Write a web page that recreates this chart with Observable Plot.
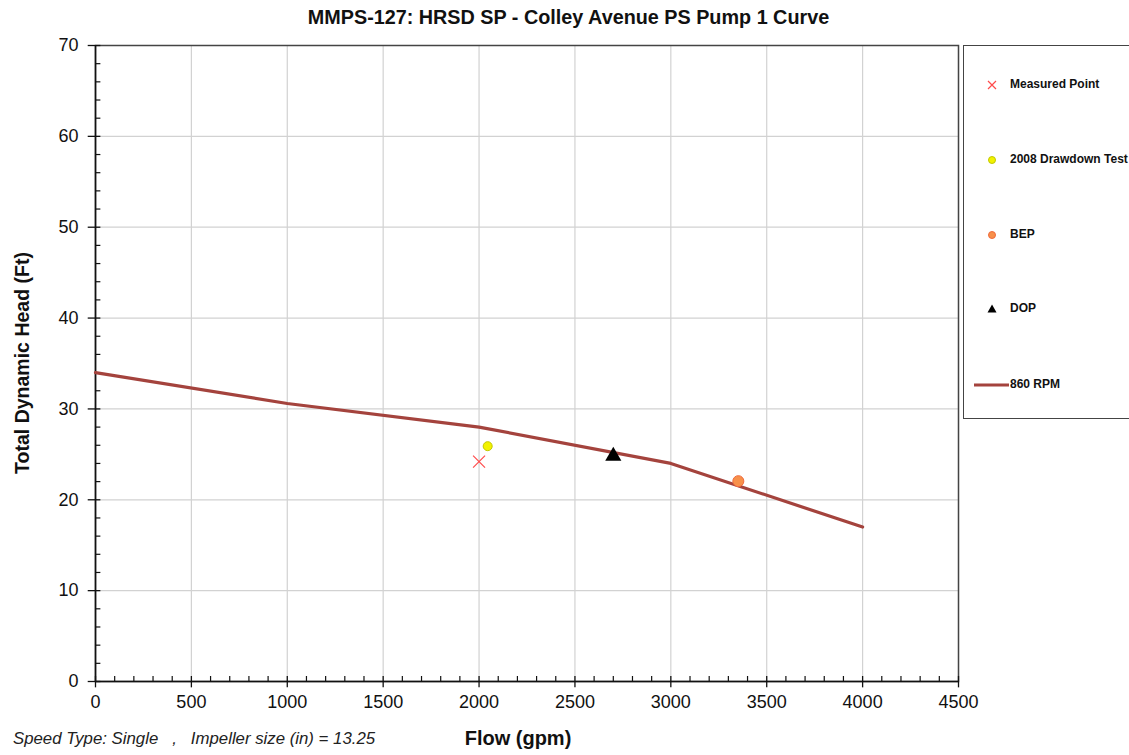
<!DOCTYPE html>
<html>
<head>
<meta charset="utf-8">
<script src="https://cdn.jsdelivr.net/npm/d3@7"></script>
<script src="https://cdn.jsdelivr.net/npm/@observablehq/plot@0.6"></script>
<style>
  body { margin: 0; background: #fff; font-family: "Liberation Sans", Arial, sans-serif; }
  #wrap { position: relative; width: 1129px; height: 755px; overflow: hidden; }
  #chart { position: absolute; left: 0; top: 0; }
  .title { position: absolute; left: 4px; top: 6px; width: 1129px; text-align: center; font-weight: bold; font-size: 19.8px; color: #111; }
  .xlabel { position: absolute; left: 418px; top: 727px; width: 200px; text-align: center; font-weight: bold; font-size: 20px; color: #111; }
  .ylabel { position: absolute; left: 22px; top: 363px; transform: translate(-50%, -50%) rotate(-90deg); white-space: nowrap; font-weight: bold; font-size: 19.5px; color: #111; }
  .caption { position: absolute; left: 13px; top: 729px; font-style: italic; font-size: 16.8px; color: #222; white-space: pre; }
  #legend { position: absolute; left: 963px; top: 45px; width: 200px; height: 374px; border: 1.5px solid #444; box-sizing: border-box; background: #fff; }
  .li { position: absolute; left: 0; height: 14px; font-size: 12px; font-weight: bold; color: #111; font-family: "Liberation Sans", Arial, sans-serif; white-space: nowrap; }
  .li svg { position: absolute; left: 0; top: -3px; }
  .li span { position: absolute; left: 46px; top: -1px; }
</style>
</head>
<body>
<div id="wrap">
  <div id="chart"></div>
  <div class="title">MMPS-127: HRSD SP - Colley Avenue PS Pump 1 Curve</div>
  <div class="ylabel">Total Dynamic Head (Ft)</div>
  <div class="xlabel">Flow (gpm)</div>
  <div class="caption">Speed Type: Single   ,   Impeller size (in) = 13.25</div>
  <div id="legend"></div>
</div>
<script>
// Pump curve (860 RPM)
const curveFlow = [0, 1000, 2000, 3000, 4000];
const curveHead = [34, 30.6, 28, 24, 17];

// Points
const measuredFlow = [2000];
const measuredHead = [24.2];
const drawdownFlow = [2045];
const drawdownHead = [25.9];
const bepFlow = [3352];
const bepHead = [22.05];
const dopFlow = [2700];
const dopHead = [24.8];

// Axis ticks
const xTicks = [0, 500, 1000, 1500, 2000, 2500, 3000, 3500, 4000, 4500];
const yTicks = [0, 10, 20, 30, 40, 50, 60, 70];
const xMinor = d3.range(0, 4501, 100).filter(v => v % 500 !== 0);
const yMinor = d3.range(0, 71, 2).filter(v => v % 10 !== 0);

const curve = curveFlow.map((f, i) => ({flow: f, head: curveHead[i]}));
const pts = (fs, hs) => fs.map((f, i) => ({flow: f, head: hs[i]}));

const lineColor = "#a4433d";

const chart = Plot.plot({
  width: 1129,
  height: 755,
  marginLeft: 95,
  marginRight: 171,
  marginTop: 45,
  marginBottom: 74,
  style: {fontFamily: "Liberation Sans, Arial, sans-serif", background: "transparent"},
  x: {domain: [0, 4500], label: null},
  y: {domain: [0, 70], label: null},
  marks: [
    Plot.gridX(xTicks, {stroke: "#d2d2d2", strokeOpacity: 1, strokeWidth: 1.2}),
    Plot.gridY(yTicks, {stroke: "#d2d2d2", strokeOpacity: 1, strokeWidth: 1.2}),
    Plot.frame({stroke: "#444", strokeWidth: 1.5}),
    Plot.ruleX([0], {stroke: "#111", strokeWidth: 1.5}),
    Plot.ruleY([0], {stroke: "#111", strokeWidth: 1.5}),
    Plot.ruleX(xTicks, {y1: -0.7, y2: 0.55, stroke: "#111", strokeWidth: 1.3}),
    Plot.ruleY(yTicks, {x1: -38, x2: 28, stroke: "#111", strokeWidth: 1.3}),
    Plot.ruleX(xMinor, {y1: 0, y2: 0.55, stroke: "#111", strokeWidth: 1.2}),
    Plot.ruleY(yMinor, {x1: 0, x2: 28, stroke: "#111", strokeWidth: 1.2}),
    Plot.axisX(xTicks, {tickSize: 0, tickPadding: 14, fontSize: 18, fill: "#111", label: null, tickFormat: d => String(d)}),
    Plot.axisY(yTicks, {tickSize: 0, tickPadding: 17, fontSize: 18, fill: "#111", label: null, tickFormat: d => String(d)}),
    Plot.line(curve, {x: "flow", y: "head", stroke: lineColor, strokeWidth: 3.2}),
    Plot.dot(pts(measuredFlow, measuredHead), {x: "flow", y: "head", symbol: "times", r: 5.5, stroke: "#ff4b4b", strokeWidth: 1.2}),
    Plot.dot(pts(drawdownFlow, drawdownHead), {x: "flow", y: "head", r: 4.5, fill: "#f2f200", stroke: "#c2c800", strokeWidth: 1}),
    Plot.dot(pts(bepFlow, bepHead), {x: "flow", y: "head", r: 5.5, fill: "#f7904a", stroke: "#f06a3c", strokeWidth: 1}),
    Plot.dot(pts(dopFlow, dopHead), {x: "flow", y: "head", symbol: "triangle", r: 6, fill: "#000", stroke: "none"})
  ]
});
document.getElementById("chart").appendChild(chart);

// Legend
const legendItems = [
  {label: "Measured Point", y: 39, svg: '<svg width="46" height="20"><path d="M24 6 L32 14 M32 6 L24 14" stroke="#ff4b4b" stroke-width="1.2"/></svg>'},
  {label: "2008 Drawdown Test", y: 114, svg: '<svg width="46" height="20"><circle cx="28" cy="10" r="3.5" fill="#f2f200" stroke="#c2c800"/></svg>'},
  {label: "BEP", y: 189, svg: '<svg width="46" height="20"><circle cx="28" cy="10" r="3.5" fill="#f7904a" stroke="#f06a3c"/></svg>'},
  {label: "DOP", y: 263, svg: '<svg width="46" height="20"><path d="M28 5.5 L32.5 13.5 L23.5 13.5 Z" fill="#000"/></svg>'},
  {label: "860 RPM", y: 339, svg: '<svg width="46" height="20"><line x1="10" y1="10" x2="45" y2="10" stroke="' + lineColor + '" stroke-width="3"/></svg>'}
];
const leg = document.getElementById("legend");
legendItems.forEach(it => {
  const d = document.createElement("div");
  d.className = "li";
  d.style.top = (it.y - 7) + "px";
  d.innerHTML = it.svg + "<span>" + it.label + "</span>";
  leg.appendChild(d);
});
</script>
</body>
</html>
